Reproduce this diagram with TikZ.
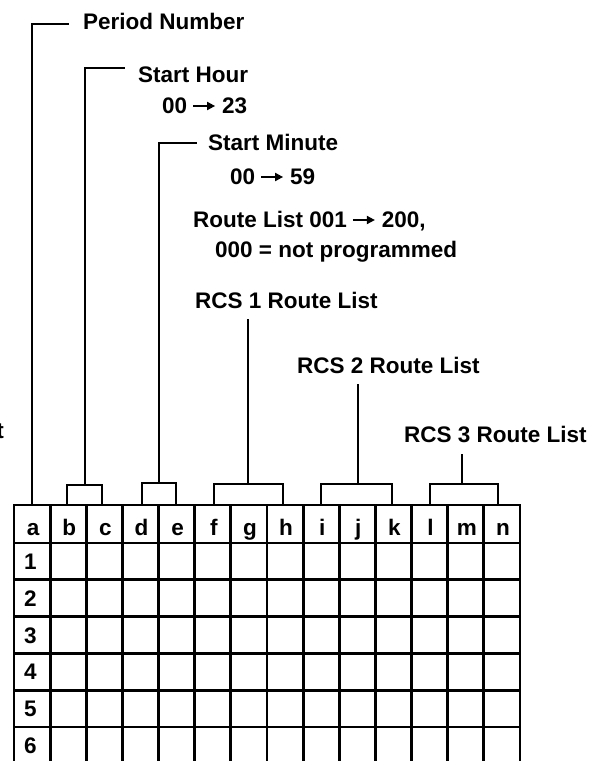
\documentclass[tikz,border=0pt]{standalone}
\usepackage{fontspec}
\setmainfont{Liberation Sans}
\usetikzlibrary{arrows.meta}
\newcommand{\arr}{\hspace{5pt}\tikz[baseline=0pt,x=1pt,y=1pt]\draw[line width=1.8pt,-{Triangle[length=8pt,width=8pt]}] (0,7) -- (22,7);\hspace{6pt}}
\begin{document}
\begin{tikzpicture}[x=1pt,y=-1pt,
  lbl/.style={anchor=base west, inner sep=0pt, font=\bfseries\fontsize{22.5}{28}\selectfont},
  cell/.style={anchor=base, inner sep=0pt, font=\bfseries\fontsize{22.5}{28}\selectfont},
  wire/.style={line width=2.5pt, line cap=rect, line join=miter},
  gridline/.style={line width=2.8pt, line cap=rect}]
\useasboundingbox (0,0) rectangle (605,761);

% labels
\node[lbl] (pn) at (83,29) {Period Number};
\node[lbl] (sh) at (138,82) {Start Hour};
\node[lbl] (shr) at (162,113) {00\arr 23};
\node[lbl] (sm) at (208,150) {Start Minute};
\node[lbl] (smr) at (230,184) {00\arr 59};
\node[lbl] (rl1) at (193,227) {Route List 001\arr 200,};
\node[lbl] (rl2) at (215,257) {000 = not programmed};
\node[lbl] (r1) at (195,308) {RCS 1 Route List};
\node[lbl] (r2) at (297,373) {RCS 2 Route List};
\node[lbl] (r3) at (404,442) {RCS 3 Route List};
\node[anchor=base east, inner sep=0pt, font=\bfseries\fontsize{22.5}{28}\selectfont] (tfrag) at (4,438) {t};

% grid
\foreach \i in {0,...,14} \draw[gridline] ({14+36.14*\i},505) -- ({14+36.14*\i},790);
\foreach \y in {505,543,579.8,616.6,653.4,690.2,727} \draw[gridline] (14,\y) -- (520,\y);

% header letters
\foreach \l [count=\k from 0] in {a,b,c,d,e,f,g,h,i,j,k,l,m,n}
  \node[cell] (hd-\l) at ({14+36.14*\k+18.07+1},535) {\l};
% row numbers
\foreach \r [count=\k from 0] in {1,...,6}
  \node[anchor=base west, inner sep=0pt, font=\bfseries\fontsize{22.5}{28}\selectfont] (row-\r) at (24,{569.5+36.8*\k}) {\r};

% connectors
\coordinate (pn-a) at (68,24);  \coordinate (pn-b) at (32,505);
\draw[wire] (pn-a) -| (pn-b);

\coordinate (sh-a) at (124,68); \coordinate (sh-b) at (85,485);
\draw[wire] (sh-a) -| (sh-b);
\draw[wire] (67,505) |- (sh-b) -| (102,505);

\coordinate (sm-a) at (196,143); \coordinate (sm-b) at (159,483);
\draw[wire] (sm-a) -| (sm-b);
\draw[wire] (142,505) |- (sm-b) -| (176,505);

\coordinate (r1-a) at (248,320); \coordinate (r1-b) at (248,484);
\draw[wire] (r1-a) -- (r1-b);
\draw[wire] (214,505) |- (r1-b) -| (283,505);

\coordinate (r2-a) at (358,385); \coordinate (r2-b) at (358,484);
\draw[wire] (r2-a) -- (r2-b);
\draw[wire] (321,505) |- (r2-b) -| (392,505);

\coordinate (r3-a) at (462,455); \coordinate (r3-b) at (462,484);
\draw[wire] (r3-a) -- (r3-b);
\draw[wire] (430,505) |- (r3-b) -| (498,505);
\end{tikzpicture}
\end{document}
